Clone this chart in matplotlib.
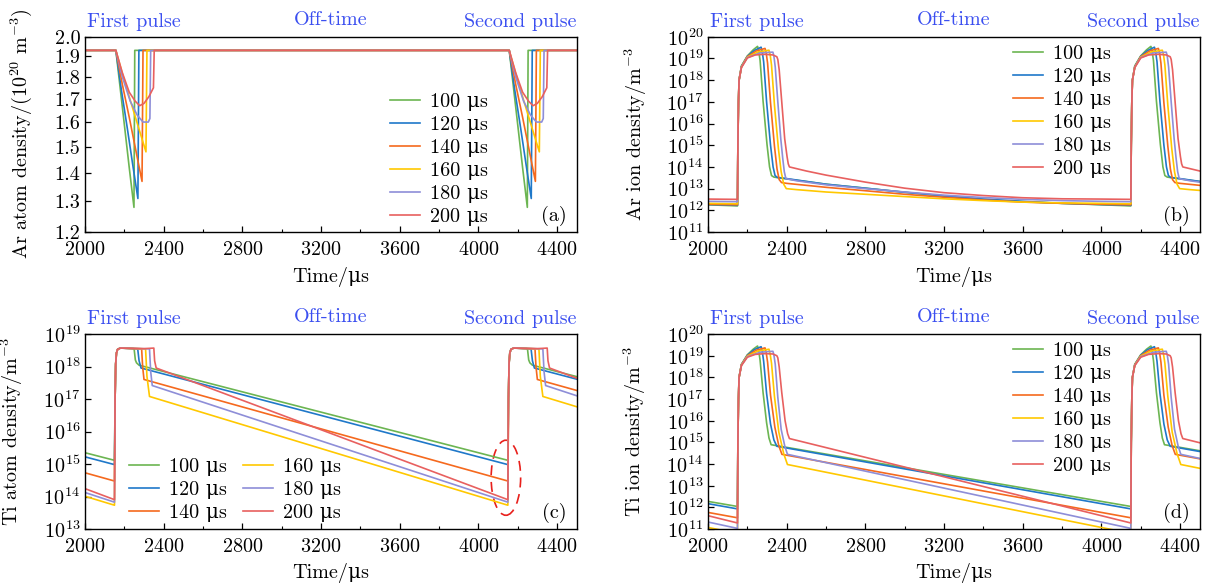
import numpy as np
import matplotlib
matplotlib.use("Agg")
import matplotlib.pyplot as plt
from matplotlib.patches import Ellipse
from matplotlib.ticker import MultipleLocator, NullLocator, LogLocator

plt.rcParams["font.family"] = ["cmr10", "DejaVu Serif"]
plt.rcParams["mathtext.fontset"] = "cm"
plt.rcParams["axes.formatter.use_mathtext"] = True
plt.rcParams["font.size"] = 14.5

# ---------------------------------------------------------------- data
pulse_widths = [100, 120, 140, 160, 180, 200]
series_labels = [f"{w} \u03bcs" for w in pulse_widths]
series_colors = ["#6cb552", "#1f78c9", "#f5691e", "#ffc800", "#8e8ed8", "#e8605f"]

PERIOD = 2000                      # µs between pulse starts
CYCLE_SHIFTS = [-PERIOD, 0, PERIOD]  # previous, first and second pulse

# (a) Ar atom density, 1e20 m^-3 — one cycle, pulse starting at 2150 µs
ar_atom_t = [
    [2150, 2157, 2175, 2200, 2225, 2249, 2253, 4150],
    [2150, 2157, 2185, 2215, 2245, 2269, 2274, 4150],
    [2150, 2157, 2190, 2225, 2260, 2290, 2295, 4150],
    [2150, 2157, 2195, 2235, 2275, 2310, 2315, 4150],
    [2150, 2157, 2190, 2230, 2265, 2295, 2322, 2330, 2334, 4150],
    [2150, 2157, 2190, 2225, 2255, 2278, 2300, 2325, 2348, 2352, 4150],
]
ar_atom_v = [
    [1.93, 1.93, 1.78, 1.59, 1.42, 1.28, 1.93, 1.93],
    [1.93, 1.93, 1.74, 1.575, 1.42, 1.31, 1.93, 1.93],
    [1.93, 1.93, 1.765, 1.62, 1.48, 1.37, 1.93, 1.93],
    [1.93, 1.93, 1.80, 1.68, 1.57, 1.48, 1.93, 1.93],
    [1.93, 1.93, 1.80, 1.69, 1.63, 1.60, 1.60, 1.615, 1.93, 1.93],
    [1.93, 1.93, 1.82, 1.73, 1.69, 1.67, 1.68, 1.71, 1.75, 1.93, 1.93],
]

# (b) Ar ion density, m^-3
ar_ion_t = [
    [2150, 2152, 2155, 2158, 2170, 2200, 2230, 2252, 2258, 2265, 2280, 2300, 2313, 2323, 2335,
     2400, 2600, 2800, 3000, 3200, 3400, 3600, 3800, 4000, 4150],
    [2150, 2152, 2155, 2158, 2170, 2200, 2235, 2270, 2276, 2283, 2298, 2318, 2331, 2341, 2352,
     2400, 2600, 2800, 3000, 3200, 3400, 3600, 3800, 4000, 4150],
    [2150, 2152, 2155, 2158, 2170, 2200, 2245, 2290, 2296, 2303, 2318, 2338, 2351, 2362, 2374,
     2400, 2600, 2800, 3000, 3200, 3400, 3600, 3800, 4000, 4150],
    [2150, 2152, 2155, 2158, 2170, 2200, 2255, 2310, 2316, 2323, 2338, 2358, 2372, 2385, 2398,
     2450, 2600, 2800, 3000, 3200, 3400, 3600, 3800, 4000, 4150],
    [2150, 2152, 2155, 2158, 2170, 2200, 2265, 2330, 2335, 2342, 2355, 2370, 2380, 2388, 2396,
     2450, 2600, 2800, 3000, 3200, 3400, 3600, 3800, 4000, 4150],
    [2150, 2152, 2155, 2158, 2170, 2200, 2240, 2290, 2330, 2350, 2355, 2362, 2375, 2390, 2402,
     2408, 2414, 2500, 2600, 2800, 3000, 3200, 3400, 3600, 3800, 4000, 4150],
]
ar_ion_v = [
    [1.6e12, 1e15, 1e17, 1e18, 4.5e18, 1.3e19, 2.5e19, 3.6e19, 2.2e19, 8e18, 1.1e17, 1.1e15, 1e14,
     4e13, 3.4e13, 2.8e13, 1.6e13, 1.05e13, 6.8e12, 4.5e12, 3.2e12, 2.5e12, 2.1e12, 1.8e12, 1.6e12],
    [1.7e12, 1e15, 1e17, 1e18, 4.3e18, 1.25e19, 2.3e19, 3.3e19, 2e19, 7e18, 1e17, 1e15, 1e14,
     4e13, 3.3e13, 2.9e13, 1.6e13, 1.05e13, 6.8e12, 4.6e12, 3.3e12, 2.6e12, 2.1e12, 1.85e12, 1.7e12],
    [1.8e12, 1e15, 1e17, 1e18, 4.1e18, 1.2e19, 2.2e19, 2.9e19, 1.8e19, 6e18, 9e16, 9e14, 8e13,
     2.6e13, 1.9e13, 1.75e13, 1.15e13, 8e12, 5.5e12, 4e12, 3e12, 2.4e12, 2.1e12, 1.9e12, 1.8e12],
    [2.0e12, 1e15, 1e17, 1e18, 4e18, 1.15e19, 2e19, 2.4e19, 1.5e19, 5e18, 7e16, 7e14, 6e13,
     1.6e13, 1e13, 9e12, 7e12, 5.5e12, 4.3e12, 3.4e12, 2.8e12, 2.4e12, 2.2e12, 2.1e12, 2.0e12],
    [2.5e12, 1e15, 1e17, 1e18, 3.9e18, 1.1e19, 1.8e19, 1.95e19, 1.3e19, 4e18, 1e17, 2e15, 2.5e14,
     6e13, 2.9e13, 2.3e13, 1.5e13, 1e13, 7e12, 5e12, 3.9e12, 3.2e12, 2.8e12, 2.6e12, 2.5e12],
    [3.2e12, 1e15, 1e17, 1e18, 3.8e18, 1.05e19, 1.45e19, 1.55e19, 1.45e19, 1.2e19, 9e18, 3e18, 1e17,
     2e15, 3e14, 1.4e14, 1e14, 6.5e13, 4.2e13, 2e13, 1.05e13, 6.5e12, 4.8e12, 3.8e12, 3.4e12,
     3.3e12, 3.2e12],
]

# (c) Ti atom density, m^-3
ti_atom_t = [
    [2150, 2153, 2156, 2160, 2166, 2180, 2245, 2250, 2256, 2262, 2275, 4150],
    [2150, 2153, 2156, 2160, 2166, 2180, 2268, 2275, 2285, 4150],
    [2150, 2153, 2156, 2160, 2166, 2180, 2288, 2293, 2300, 4150],
    [2150, 2153, 2156, 2160, 2166, 2180, 2308, 2315, 2328, 4150],
    [2150, 2153, 2156, 2160, 2166, 2180, 2328, 2334, 2342, 4150],
    [2150, 2153, 2156, 2160, 2166, 2180, 2300, 2350, 2354, 2362, 4150],
]
ti_atom_v = [
    [1.3e15, 1e17, 1.2e18, 2.6e18, 3.4e18, 3.7e18, 3.6e18, 3.4e18, 1.6e18, 1.3e18, 1.1e18, 1.3e15],
    [9.6e14, 1e17, 1.2e18, 2.6e18, 3.4e18, 3.7e18, 3.5e18, 1.5e18, 9e17, 9.6e14],
    [3.0e14, 1e17, 1.2e18, 2.6e18, 3.4e18, 3.7e18, 3.5e18, 1.0e18, 4e17, 3.0e14],
    [5.4e13, 1e17, 1.2e18, 2.6e18, 3.4e18, 3.7e18, 3.5e18, 5e17, 1.2e17, 5.4e13],
    [6.7e13, 1e17, 1.2e18, 2.6e18, 3.4e18, 3.7e18, 3.5e18, 7e17, 2.6e17, 6.7e13],
    [8.0e13, 1e17, 1.2e18, 2.6e18, 3.4e18, 3.7e18, 3.55e18, 3.7e18, 1.5e18, 9e17, 8.0e13],
]

# (d) Ti ion density, m^-3
ti_ion_t = [
    [2150, 2152, 2155, 2158, 2170, 2200, 2230, 2252, 2258, 2265, 2280, 2298, 2310, 2321, 4150],
    [2150, 2152, 2155, 2158, 2170, 2200, 2235, 2270, 2276, 2283, 2298, 2318, 2335, 2350, 4150],
    [2150, 2152, 2155, 2158, 2170, 2200, 2245, 2290, 2296, 2303, 2318, 2340, 2360, 2376, 4150],
    [2150, 2152, 2155, 2158, 2170, 2200, 2255, 2310, 2316, 2323, 2338, 2360, 2385, 2404, 4150],
    [2150, 2152, 2155, 2158, 2170, 2200, 2265, 2330, 2335, 2342, 2355, 2372, 2390, 2404, 4150],
    [2150, 2152, 2155, 2158, 2170, 2200, 2240, 2290, 2330, 2350, 2355, 2362, 2375, 2392, 2405,
     2414, 4150],
]
ti_ion_v = [
    [1.1e12, 1e15, 1e17, 1e18, 4e18, 1.1e19, 2e19, 2.8e19, 1.7e19, 6e18, 2e17, 8e15, 1.6e15,
     7.8e14, 1.1e12],
    [8.5e11, 1e15, 1e17, 1e18, 3.9e18, 1.05e19, 1.9e19, 2.6e19, 1.6e19, 5.5e18, 1.8e17, 7e15,
     1.3e15, 6.6e14, 8.5e11],
    [3.3e11, 1e15, 1e17, 1e18, 3.8e18, 1e19, 1.8e19, 2.3e19, 1.4e19, 5e18, 1.5e17, 5e15, 7e14,
     2.8e14, 3.3e11],
    [6.3e10, 1e15, 1e17, 1e18, 3.7e18, 9.5e18, 1.65e19, 2e19, 1.2e19, 4.5e18, 1.3e17, 3e15, 3e14,
     9.5e13, 6.3e10],
    [1.07e11, 1e15, 1e17, 1e18, 3.6e18, 9e18, 1.45e19, 1.6e19, 1.1e19, 4e18, 1.2e17, 4e15, 7e14,
     2.8e14, 1.07e11],
    [1.9e11, 1e15, 1e17, 1e18, 3.5e18, 8.5e18, 1.15e19, 1.25e19, 1.2e19, 1e19, 8e18, 3e18, 2e17,
     1e16, 2.5e15, 1.5e15, 1.9e11],
]

x_limits = (2000, 4500)
phase_labels = ["First pulse", "Off-time", "Second pulse"]
phase_color = "#3b4ff0"
x_label = "Time/\u03bcs"

# ---------------------------------------------------------------- figure
fig = plt.figure(figsize=(12.09, 5.88), dpi=100)
ax_a = fig.add_axes([0.0703, 0.6054, 0.4067, 0.3321])
ax_b = fig.add_axes([0.5856, 0.6054, 0.4067, 0.3321])
ax_c = fig.add_axes([0.0703, 0.1003, 0.4067, 0.3316])
ax_d = fig.add_axes([0.5856, 0.1003, 0.4067, 0.3316])


def tile_cycles(t, v):
    tt = np.concatenate([np.asarray(t, float) + s for s in CYCLE_SHIFTS])
    vv = np.concatenate([np.asarray(v, float) for _ in CYCLE_SHIFTS])
    return tt, vv


def draw_series(ax, times, values):
    for t, v, c, lab in zip(times, values, series_colors, series_labels):
        tt, vv = tile_cycles(t, v)
        ax.plot(tt, vv, color=c, lw=1.2, label=lab, solid_joinstyle="round")


def style_axes(ax, ylabel, ylabel_x, letter, xlabel_y):
    ax.set_xlim(*x_limits)
    ax.xaxis.set_major_locator(MultipleLocator(400))
    ax.xaxis.set_minor_locator(MultipleLocator(200))
    ax.tick_params(which="both", direction="in", top=False, right=False)
    ax.tick_params(which="major", length=4.5, width=0.9)
    ax.tick_params(which="minor", length=2.2, width=0.8)
    ax.tick_params(axis="x", which="major", pad=6.5)
    ax.tick_params(axis="y", which="major", pad=3.5)
    for sp in ax.spines.values():
        sp.set_linewidth(1.0)
    ax.set_xlabel(x_label)
    ax.xaxis.set_label_coords(0.5, xlabel_y)
    ax.set_ylabel(ylabel)
    ax.yaxis.set_label_coords(ylabel_x, 0.5)
    ax.text(0.98, 0.08, letter, transform=ax.transAxes, ha="right", va="center")
    ax.text(0.005, 1.05, phase_labels[0], transform=ax.transAxes, ha="left",
            va="baseline", color=phase_color)
    ax.text(0.5, 1.06, phase_labels[1], transform=ax.transAxes, ha="center",
            va="baseline", color=phase_color)
    ax.text(1.0, 1.05, phase_labels[2], transform=ax.transAxes, ha="right",
            va="baseline", color=phase_color)


def log_y(ax, lo, hi):
    ax.set_yscale("log")
    ax.set_ylim(lo, hi)
    ax.yaxis.set_major_locator(LogLocator(base=10, numticks=20))
    ax.yaxis.set_minor_locator(NullLocator())


legend_kw = dict(frameon=False, handlelength=1.5, handletextpad=0.5, labelspacing=0.24,
                 borderpad=0.0, borderaxespad=0.0)

# (a)
draw_series(ax_a, ar_atom_t, ar_atom_v)
ax_a.set_yscale("log")
ax_a.set_ylim(1.2, 2.0)
a_ticks = [1.2, 1.3, 1.4, 1.5, 1.6, 1.7, 1.8, 1.9, 2.0]
ax_a.set_yticks(a_ticks, labels=[f"{v:.1f}" for v in a_ticks])
ax_a.yaxis.set_minor_locator(NullLocator())
style_axes(ax_a, r"Ar atom density/(10$^{20}$ m$^{-3}$)", -0.104, "(a)", -0.18)
ax_a.legend(loc="upper left", bbox_to_anchor=(0.62, 0.71), **legend_kw)

# (b)
draw_series(ax_b, ar_ion_t, ar_ion_v)
log_y(ax_b, 1e11, 1e20)
style_axes(ax_b, r"Ar ion density/m$^{-3}$", -0.12, "(b)", -0.18)
ax_b.legend(loc="upper left", bbox_to_anchor=(0.62, 0.957), **legend_kw)

# (c)
draw_series(ax_c, ti_atom_t, ti_atom_v)
log_y(ax_c, 1e13, 1e19)
style_axes(ax_c, r"Ti atom density/m$^{-3}$", -0.123, "(c)", -0.172)
ax_c.legend(loc="upper left", bbox_to_anchor=(0.089, 0.366), ncol=2, columnspacing=0.8,
            **legend_kw)
ax_c.add_patch(Ellipse((0.856, 0.263), 0.06, 0.385, transform=ax_c.transAxes,
                       fill=False, edgecolor="#e8201c", lw=1.2, ls=(0, (6, 4))))

# (d)
draw_series(ax_d, ti_ion_t, ti_ion_v)
log_y(ax_d, 1e11, 1e20)
style_axes(ax_d, r"Ti ion density/m$^{-3}$", -0.123, "(d)", -0.172)
ax_d.legend(loc="upper left", bbox_to_anchor=(0.62, 0.959), **legend_kw)

fig.savefig("out.png", dpi=100)
